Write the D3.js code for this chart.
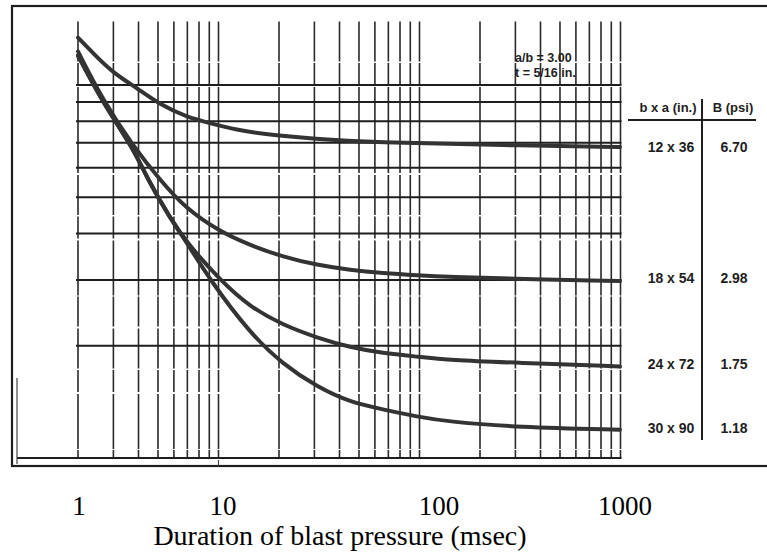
<!DOCTYPE html>
<html>
<head>
<meta charset="utf-8">
<script src="https://cdn.jsdelivr.net/npm/d3@7"></script>
<style>
    body { margin: 0; background: #fff; }
    svg { display: block; }
</style>
</head>
<body>
<div id="chart"></div>
<script>
// durations (msec) and pressures (psi)
var curve12x36 = [[1, 13.4], [1.22, 12.0], [1.49, 10.8], [1.97, 9.8], [2.56, 8.85], [3.49, 8.2], [4.54, 7.9], [6.2, 7.57], [9.0, 7.35], [17.9, 7.12], [40, 6.99], [126, 6.9], [497, 6.82]];
var curve18x54 = [[1, 12.3], [1.33, 9.1], [1.88, 6.86], [2.56, 5.56], [3.41, 4.68], [5.09, 4.04], [7.17, 3.72], [10.5, 3.46], [15.5, 3.29], [22.6, 3.19], [32.9, 3.13], [48.6, 3.09], [70.9, 3.06], [158, 3.02], [497, 2.98]];
var curve24x72 = [[1, 12.0], [1.33, 8.95], [1.88, 6.78], [2.23, 5.56], [2.87, 4.4], [3.49, 3.77], [5.09, 3.0], [7.17, 2.54], [10.5, 2.27], [15.5, 2.1], [22.6, 1.98], [32.9, 1.91], [48.6, 1.87], [70.9, 1.83], [153, 1.8], [497, 1.76]];
var curve30x90 = [[1, 12.0], [1.33, 8.95], [1.88, 6.78], [2.23, 5.56], [2.87, 4.4], [3.49, 3.77], [4.54, 3.0], [7.17, 2.16], [10.5, 1.78], [15.5, 1.55], [22.6, 1.41], [32.9, 1.35], [48.6, 1.29], [70.9, 1.25], [153, 1.21], [497, 1.19]];

var sizes = ["12 x 36", "18 x 54", "24 x 72", "30 x 90"];
var bValues = [6.70, 2.98, 1.75, 1.18];
var bLabels = ["6.70", "2.98", "1.75", "1.18"];

// grid of the original log paper
var gridX = [1, 1.5, 2, 2.5, 3, 3.5, 4, 4.5, 5,
             10, 15, 20, 25, 30, 35, 40, 45, 50,
             100, 150, 200, 250, 300, 350, 400, 450, 500];
var gridY = [1, 2, 3, 4, 5, 6, 7, 8, 9, 10];
var gridTop = 14.8;

var tickLabels = ["1", "10", "100", "1000"];
var notes = ["a/b = 3.00", "t = 5/16 in."];

var width = 767, height = 557;

var svg = d3.select("#chart").append("svg")
    .attr("width", width)
    .attr("height", height);

var x = d3.scaleLog().domain([1, 1000]).range([78, 681]);
var y = d3.scaleLog().domain([1, 10]).range([458, 85]);

// label positions as they were typed below the figure
var labelX = d3.scaleOrdinal().domain(tickLabels).range([79, 223, 439, 625]);

var ink = "#1e1e1e";

// outer frame
svg.append("rect")
    .attr("x", 12)
    .attr("y", 6)
    .attr("width", 780)
    .attr("height", 460)
    .attr("fill", "none")
    .attr("stroke", ink)
    .attr("stroke-width", 2.2);

var grid = svg.append("g");

grid.selectAll("line.v")
    .data(gridX)
    .enter()
    .append("line")
    .attr("class", "v")
    .attr("x1", function(d) { return x(d); })
    .attr("x2", function(d) { return x(d); })
    .attr("y1", y(gridTop))
    .attr("y2", y(1))
    .attr("stroke", "#2a2a2a")
    .attr("stroke-width", 1.6)
    .attr("stroke-dasharray", "40,1.5,22,2,55,1,30,2");

grid.selectAll("line.h")
    .data(gridY)
    .enter()
    .append("line")
    .attr("class", "h")
    .attr("x1", function(d) { return d === 1 ? 17 : x(1) - 2; })
    .attr("x2", x(500) + 1)
    .attr("y1", function(d) { return y(d); })
    .attr("y2", function(d) { return y(d); })
    .attr("stroke", ink)
    .attr("stroke-width", 2);

// stray marks of the scan along the bottom
svg.append("line")
    .attr("x1", 17).attr("x2", 17)
    .attr("y1", 378).attr("y2", 464)
    .attr("stroke", "#444")
    .attr("stroke-width", 1.2);

svg.append("line")
    .attr("x1", x(5)).attr("x2", x(5))
    .attr("y1", 460).attr("y2", 466)
    .attr("stroke", "#444")
    .attr("stroke-width", 1.2);

var line = d3.line()
    .x(function(d) { return x(d[0]); })
    .y(function(d) { return y(d[1]); })
    .curve(d3.curveBasis);

svg.append("g")
    .selectAll("path")
    .data([curve12x36, curve18x54, curve24x72, curve30x90])
    .enter()
    .append("path")
    .attr("d", line)
    .attr("fill", "none")
    .attr("stroke", "#333")
    .attr("stroke-width", 4)
    .attr("stroke-linecap", "round");

// notes in the upper right of the grid
svg.append("g")
    .selectAll("text")
    .data(notes)
    .enter()
    .append("text")
    .attr("x", 515)
    .attr("y", function(d, i) { return 62 + 15 * i; })
    .style("font", "bold 12.5px 'Liberation Sans', Arial, sans-serif")
    .attr("fill", ink)
    .text(function(d) { return d; });

// table on the right
var table = svg.append("g")
    .style("font", "bold 13px 'Liberation Sans', Arial, sans-serif")
    .attr("fill", ink);

table.append("text")
    .attr("x", 668).attr("y", 112)
    .attr("text-anchor", "middle")
    .text("b x a (in.)");

table.append("text")
    .attr("x", 733).attr("y", 112)
    .attr("text-anchor", "middle")
    .text("B (psi)");

table.append("line")
    .attr("x1", 628).attr("x2", 756)
    .attr("y1", 120).attr("y2", 120)
    .attr("stroke", ink).attr("stroke-width", 2);

table.append("line")
    .attr("x1", 702).attr("x2", 702)
    .attr("y1", 99).attr("y2", 440)
    .attr("stroke", ink).attr("stroke-width", 2);

table.selectAll("text.size")
    .data(sizes)
    .enter()
    .append("text")
    .attr("class", "size")
    .attr("x", 671)
    .attr("y", function(d, i) { return y(bValues[i]) + 2; })
    .attr("text-anchor", "middle")
    .style("font-size", "14px")
    .text(function(d) { return d; });

table.selectAll("text.b")
    .data(bLabels)
    .enter()
    .append("text")
    .attr("class", "b")
    .attr("x", 734)
    .attr("y", function(d, i) { return y(bValues[i]) + 2; })
    .attr("text-anchor", "middle")
    .style("font-size", "14px")
    .text(function(d) { return d; });

// axis labels typed below the figure
svg.append("g")
    .selectAll("text")
    .data(tickLabels)
    .enter()
    .append("text")
    .attr("x", function(d) { return labelX(d); })
    .attr("y", 515)
    .attr("text-anchor", "middle")
    .style("font", "27px 'Liberation Serif', 'Times New Roman', serif")
    .attr("fill", "#000")
    .text(function(d) { return d; });

svg.append("text")
    .attr("x", 340)
    .attr("y", 545)
    .attr("text-anchor", "middle")
    .style("font", "28px 'Liberation Serif', 'Times New Roman', serif")
    .attr("fill", "#000")
    .text("Duration of blast pressure (msec)");
</script>
</body>
</html>
